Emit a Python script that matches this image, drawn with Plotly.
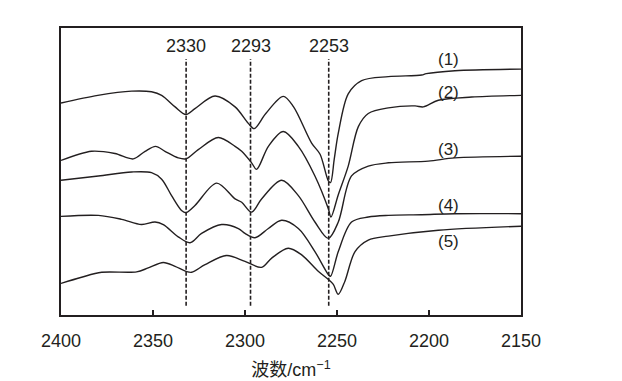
import plotly.graph_objects as go

# ---- data (wavenumber in cm^-1, relative transmittance in arbitrary units) ----
wn1 = [2400, 2380, 2361.6, 2350.8, 2345.3, 2338, 2332.1, 2327.2, 2316.3, 2305.4, 2298.2, 2295,
       2288.7, 2279.2, 2273.6, 2263.8, 2259.2, 2254.7, 2253.5, 2251.5, 2249.3, 2243.9, 2236.6,
       2222.1, 2204, 2201.5, 2185.9, 2150]
t1 = [215, 222.7, 227, 226.3, 222.7, 211, 203.3, 209.3, 222, 211, 194.3, 189,
      204.3, 221.7, 211, 174.3, 163, 136, 134.3, 158, 184.3, 224.3, 237.7,
      241.7, 243.3, 244.7, 247.7, 249.3]

wn2 = [2400, 2383.4, 2370.7, 2360.7, 2354.3, 2348.6, 2343.5, 2336.3, 2332.1, 2325.4, 2314.5,
       2305.4, 2301.8, 2296.4, 2293.7, 2287.3, 2279.2, 2271.0, 2262.0, 2254.7, 2253.3, 2249.3,
       2243.9, 2238.4, 2233.0, 2222.1, 2207.6, 2203.1, 2194.9, 2176.8, 2150]
t2 = [156.7, 166, 163.7, 158.3, 166, 171, 166, 159.3, 158.3, 167.7, 180,
      171, 166, 154.3, 147.7, 171, 186, 171, 141, 107.7, 99.3, 122,
      151, 191, 204.3, 210, 212, 211, 217.7, 221, 222.7]

wn3 = [2400, 2379.7, 2361.6, 2350.8, 2345.3, 2339.9, 2334.5, 2332.1, 2327.2, 2315.4, 2305.4,
       2301.8, 2296.4, 2291.0, 2280.1, 2271.0, 2262.0, 2254.7, 2249.3, 2242.1, 2233.0, 2222.1,
       2200.4, 2185.9, 2150]
t3 = [136.7, 141, 145, 144.3, 137.7, 121, 106, 103.7, 111, 133.7, 117.7,
      114.3, 104.3, 117.7, 136.7, 121, 94.3, 77.7, 94.3, 141, 151, 154.3,
      156, 159.3, 161]

wn4 = [2400, 2379.7, 2367.1, 2356.2, 2348.9, 2344.4, 2336.3, 2329.9, 2323.6, 2312.7, 2303.6,
       2300.0, 2294.6, 2287.3, 2280.1, 2271.0, 2262.0, 2254.7, 2253.5, 2249.3, 2242.1, 2233.0,
       2222.1, 2204, 2185.9, 2150]
t4 = [100, 101, 97, 91.7, 94.3, 91.7, 79.3, 73.3, 82.7, 91.7, 87.7,
      82.7, 78.3, 87.7, 96, 87.7, 64.3, 41, 39.3, 64.3, 94.3, 99.3,
      101, 101.7, 102.7, 102.7]

wn5 = [2400, 2388.8, 2377.9, 2358.9, 2352.6, 2344.4, 2338.0, 2332.1, 2329.0, 2321.7, 2310.0,
       2300.0, 2291.0, 2285.5, 2276.5, 2269.2, 2260.2, 2254.7, 2252.0, 2249.3, 2245.7, 2240.2,
       2233.0, 2222.1, 2194.9, 2150]
t5 = [32, 38.3, 43.3, 43.7, 47.7, 53.3, 49.3, 44.3, 43.3, 51, 60.3,
      54.3, 48.3, 57.7, 67.7, 61, 44.3, 36, 31, 21, 34.3, 64.3,
      76, 80, 86, 90]

series_names = ["(1)", "(2)", "(3)", "(4)", "(5)"]
label_wn = 2189.5
label_t = [259.3, 226, 168.3, 111, 74.3]

peak_lines = [2332, 2297, 2254.5]
peak_labels = ["2330", "2293", "2253"]
peak_line_bottom = 9.3
peak_line_top = 259.5
peak_label_t = 273

x_ticks = [2400, 2350, 2300, 2250, 2200, 2150]

# ---- figure ----
ink = "#231f20"
font_family = "Liberation Sans, Arial, Noto Sans CJK SC, sans-serif"

fig = go.Figure()
for wn, t, name in zip([wn1, wn2, wn3, wn4, wn5], [t1, t2, t3, t4, t5], series_names):
    fig.add_trace(go.Scatter(x=wn, y=t, mode="lines", name=name,
                             line=dict(color=ink, width=1.4, shape="spline", smoothing=0.9),
                             showlegend=False, hoverinfo="skip"))

for pos, lab in zip(peak_lines, peak_labels):
    fig.add_trace(go.Scatter(x=[pos, pos], y=[peak_line_bottom, peak_line_top], mode="lines",
                             line=dict(color=ink, width=1.6, dash="4px,2px"),
                             showlegend=False, hoverinfo="skip"))
    fig.add_annotation(x=pos, y=peak_label_t, text=lab, showarrow=False,
                       xanchor="center", yanchor="middle",
                       font=dict(size=18, color=ink, family=font_family))

for name, yv in zip(series_names, label_t):
    fig.add_annotation(x=label_wn, y=yv, text=name, showarrow=False,
                       xanchor="center", yanchor="middle",
                       font=dict(size=17, color=ink, family=font_family))

fig.update_layout(
    width=622, height=381,
    margin=dict(l=53, r=109, t=20, b=70),
    paper_bgcolor="white", plot_bgcolor="white",
    font=dict(family=font_family, color=ink, size=18),
    xaxis=dict(range=[2400, 2150], tickvals=x_ticks, ticktext=[str(v) for v in x_ticks],
               showline=True, mirror=True, linecolor=ink, linewidth=2,
               ticks="inside", ticklen=5, tickwidth=2, tickcolor=ink,
               showgrid=False, zeroline=False, ticklabelstandoff=8,
               tickfont=dict(size=18, color=ink),
               title=dict(text="波数/cm<sup>−1</sup>", font=dict(size=18, color=ink), standoff=14)),
    yaxis=dict(range=[0, 291], showline=True, mirror=True, linecolor=ink, linewidth=2,
               showticklabels=False, ticks="", showgrid=False, zeroline=False),
)

fig.write_html("out.html")
